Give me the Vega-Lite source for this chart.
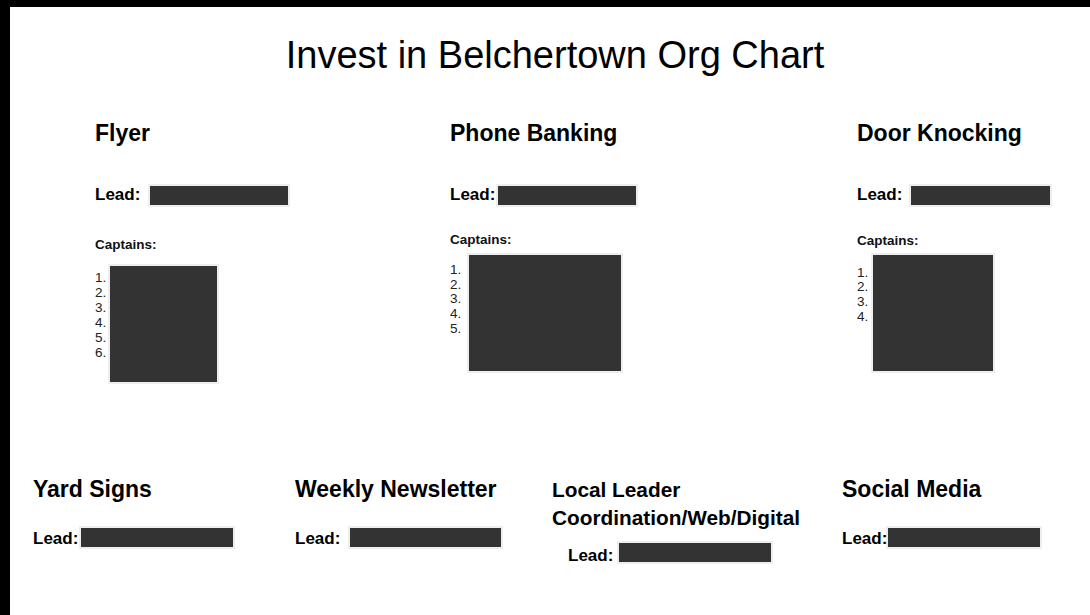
{
  "$schema": "https://vega.github.io/schema/vega-lite/v6.json",
  "width": 1090,
  "height": 615,
  "autosize": {"type": "fit", "contains": "padding"},
  "padding": 0,
  "background": "#ffffff",
  "config": {"view": {"stroke": null}, "axis": {"disable": true}, "legend": {"disable": true}},
  "datasets": {
    "boxes": [
      {"kind": "frame", "x0": 0, "x1": 1090, "y0": 0, "y1": 7},
      {"kind": "frame", "x0": 0, "x1": 10, "y0": 0, "y1": 615},
      {"kind": "redaction", "x0": 149, "x1": 289, "y0": 185, "y1": 206},
      {"kind": "redaction", "x0": 497, "x1": 637, "y0": 185, "y1": 206},
      {"kind": "redaction", "x0": 910, "x1": 1051, "y0": 185, "y1": 206},
      {"kind": "redaction", "x0": 109, "x1": 218, "y0": 265, "y1": 383},
      {"kind": "redaction", "x0": 468, "x1": 622, "y0": 254, "y1": 372},
      {"kind": "redaction", "x0": 872, "x1": 994, "y0": 254, "y1": 372},
      {"kind": "redaction", "x0": 80, "x1": 234, "y0": 527, "y1": 548},
      {"kind": "redaction", "x0": 349, "x1": 502, "y0": 527, "y1": 548},
      {"kind": "redaction", "x0": 618, "x1": 772, "y0": 542, "y1": 563},
      {"kind": "redaction", "x0": 887, "x1": 1041, "y0": 527, "y1": 548}
    ],
    "texts": [
      {"role": "title", "text": "Invest in Belchertown Org Chart", "x": 555, "y": 68},
      {"role": "header", "text": "Flyer", "x": 95, "y": 141},
      {"role": "header", "text": "Phone Banking", "x": 450, "y": 141},
      {"role": "header", "text": "Door Knocking", "x": 857, "y": 141},
      {"role": "header", "text": "Yard Signs", "x": 33, "y": 497},
      {"role": "header", "text": "Weekly Newsletter", "x": 295, "y": 497},
      {"role": "header", "text": "Social Media", "x": 842, "y": 497},
      {"role": "header2", "text": "Local Leader", "x": 552, "y": 497},
      {"role": "header2", "text": "Coordination/Web/Digital", "x": 552, "y": 525},
      {"role": "lead", "text": "Lead:", "x": 95, "y": 200},
      {"role": "lead", "text": "Lead:", "x": 450, "y": 200},
      {"role": "lead", "text": "Lead:", "x": 857, "y": 200},
      {"role": "lead", "text": "Lead:", "x": 33, "y": 544},
      {"role": "lead", "text": "Lead:", "x": 295, "y": 544},
      {"role": "lead", "text": "Lead:", "x": 568, "y": 561},
      {"role": "lead", "text": "Lead:", "x": 842, "y": 544},
      {"role": "captains", "text": "Captains:", "x": 95, "y": 249},
      {"role": "captains", "text": "Captains:", "x": 450, "y": 244},
      {"role": "captains", "text": "Captains:", "x": 857, "y": 245},
      {"role": "num", "text": "1.", "x": 95, "y": 282},
      {"role": "num", "text": "2.", "x": 95, "y": 297},
      {"role": "num", "text": "3.", "x": 95, "y": 312},
      {"role": "num", "text": "4.", "x": 95, "y": 327},
      {"role": "num", "text": "5.", "x": 95, "y": 342},
      {"role": "num", "text": "6.", "x": 95, "y": 357},
      {"role": "num", "text": "1.", "x": 450, "y": 274},
      {"role": "num", "text": "2.", "x": 450, "y": 289},
      {"role": "num", "text": "3.", "x": 450, "y": 303},
      {"role": "num", "text": "4.", "x": 450, "y": 318},
      {"role": "num", "text": "5.", "x": 450, "y": 333},
      {"role": "num", "text": "1.", "x": 857, "y": 277},
      {"role": "num", "text": "2.", "x": 857, "y": 291},
      {"role": "num", "text": "3.", "x": 857, "y": 306},
      {"role": "num", "text": "4.", "x": 857, "y": 321}
    ]
  },
  "layer": [
    {
      "data": {"name": "boxes"},
      "transform": [{"filter": "datum.kind === 'redaction'"}],
      "mark": {"type": "rect", "stroke": "#eeeeee", "strokeWidth": 2, "fill": "#333333"},
      "encoding": {
        "x": {"field": "x0", "type": "quantitative", "scale": {"domain": [0, 1090], "nice": false, "zero": false}},
        "x2": {"field": "x1"},
        "y": {"field": "y0", "type": "quantitative", "scale": {"domain": [0, 615], "nice": false, "zero": false, "reverse": true}},
        "y2": {"field": "y1"}
      }
    },
    {
      "data": {"name": "boxes"},
      "transform": [{"filter": "datum.kind === 'frame'"}],
      "mark": {"type": "rect", "fill": "#000000"},
      "encoding": {
        "x": {"field": "x0", "type": "quantitative"},
        "x2": {"field": "x1"},
        "y": {"field": "y0", "type": "quantitative"},
        "y2": {"field": "y1"}
      }
    },
    {
      "data": {"name": "texts"},
      "transform": [{"filter": "datum.role === 'title'"}],
      "mark": {"type": "text", "font": "Liberation Sans", "fontSize": 38, "align": "center", "baseline": "alphabetic", "color": "#000000"},
      "encoding": {
        "x": {"field": "x", "type": "quantitative"},
        "y": {"field": "y", "type": "quantitative"},
        "text": {"field": "text"}
      }
    },
    {
      "data": {"name": "texts"},
      "transform": [{"filter": "datum.role === 'header'"}],
      "mark": {"type": "text", "font": "Liberation Sans", "fontSize": 23, "fontWeight": "bold", "align": "left", "baseline": "alphabetic", "color": "#000000"},
      "encoding": {
        "x": {"field": "x", "type": "quantitative"},
        "y": {"field": "y", "type": "quantitative"},
        "text": {"field": "text"}
      }
    },
    {
      "data": {"name": "texts"},
      "transform": [{"filter": "datum.role === 'header2'"}],
      "mark": {"type": "text", "font": "Liberation Sans", "fontSize": 20.8, "fontWeight": "bold", "align": "left", "baseline": "alphabetic", "color": "#000000"},
      "encoding": {
        "x": {"field": "x", "type": "quantitative"},
        "y": {"field": "y", "type": "quantitative"},
        "text": {"field": "text"}
      }
    },
    {
      "data": {"name": "texts"},
      "transform": [{"filter": "datum.role === 'lead'"}],
      "mark": {"type": "text", "font": "Liberation Sans", "fontSize": 17, "fontWeight": "bold", "align": "left", "baseline": "alphabetic", "color": "#000000"},
      "encoding": {
        "x": {"field": "x", "type": "quantitative"},
        "y": {"field": "y", "type": "quantitative"},
        "text": {"field": "text"}
      }
    },
    {
      "data": {"name": "texts"},
      "transform": [{"filter": "datum.role === 'captains'"}],
      "mark": {"type": "text", "font": "Liberation Sans", "fontSize": 13.5, "fontWeight": "bold", "align": "left", "baseline": "alphabetic", "color": "#111111"},
      "encoding": {
        "x": {"field": "x", "type": "quantitative"},
        "y": {"field": "y", "type": "quantitative"},
        "text": {"field": "text"}
      }
    },
    {
      "data": {"name": "texts"},
      "transform": [{"filter": "datum.role === 'num'"}],
      "mark": {"type": "text", "font": "Liberation Sans", "fontSize": 13.5, "align": "left", "baseline": "alphabetic", "color": "#222222"},
      "encoding": {
        "x": {"field": "x", "type": "quantitative"},
        "y": {"field": "y", "type": "quantitative"},
        "text": {"field": "text"}
      }
    }
  ]
}
